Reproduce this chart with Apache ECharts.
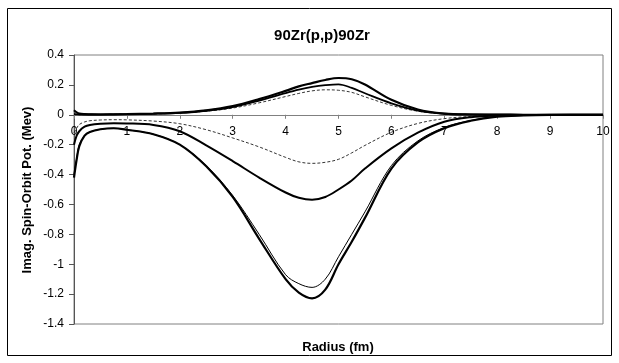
<!DOCTYPE html>
<html>
<head>
<meta charset="utf-8">
<script src="https://cdn.jsdelivr.net/npm/echarts@6/dist/echarts.min.js"></script>
<style>
html,body{margin:0;padding:0;background:#fff;}
#c{width:619px;height:363px;}
</style>
</head>
<body>
<div id="c"></div>
<script>
// Radius (fm)
var radius = [0, 0.05, 0.1, 0.2, 0.3, 0.5, 0.75, 1, 1.5, 2, 2.5, 3, 3.5, 4, 4.25, 4.5, 4.75, 5, 5.25, 5.5, 6, 6.5, 7, 7.5, 8, 8.5, 9, 10];
// Positive curves
var posThick  = [0.03, 0.016, 0.008, 0.004, 0.003, 0.002, 0.003, 0.004, 0.008, 0.015, 0.03, 0.058, 0.105, 0.16, 0.19, 0.212, 0.233, 0.246, 0.238, 0.203, 0.1, 0.035, 0.008, 0.002, 0.001, 0, 0, 0];
var posMid    = [0.004, 0.003, 0.002, 0.002, 0.002, 0.002, 0.003, 0.004, 0.007, 0.013, 0.027, 0.052, 0.095, 0.145, 0.168, 0.186, 0.198, 0.204, 0.18, 0.144, 0.077, 0.028, 0.007, 0.002, 0.001, 0, 0, 0];
var posDash   = [0.003, 0.002, 0.002, 0.002, 0.002, 0.002, 0.003, 0.004, 0.006, 0.012, 0.024, 0.045, 0.08, 0.122, 0.143, 0.16, 0.167, 0.164, 0.15, 0.12, 0.063, 0.024, 0.006, 0.002, 0.001, 0, 0, 0];
// Negative curves
var negDash   = [-0.12, -0.09, -0.065, -0.048, -0.04, -0.035, -0.033, -0.034, -0.042, -0.06, -0.1, -0.155, -0.215, -0.285, -0.315, -0.325, -0.318, -0.298, -0.255, -0.205, -0.117, -0.058, -0.026, -0.011, -0.004, -0.001, 0, 0];
var negMid    = [-0.2, -0.14, -0.11, -0.08, -0.068, -0.06, -0.057, -0.058, -0.068, -0.11, -0.205, -0.31, -0.42, -0.52, -0.555, -0.568, -0.55, -0.5, -0.44, -0.36, -0.225, -0.12, -0.047, -0.016, -0.005, -0.002, -0.001, 0];
var negThin   = [-0.4, -0.29, -0.2, -0.14, -0.115, -0.097, -0.09, -0.1, -0.13, -0.2, -0.34, -0.54, -0.8, -1.07, -1.13, -1.155, -1.1, -0.95, -0.8, -0.65, -0.34, -0.175, -0.085, -0.038, -0.011, -0.004, -0.001, 0];
var negThick  = [-0.42, -0.3, -0.21, -0.14, -0.115, -0.097, -0.09, -0.1, -0.13, -0.2, -0.345, -0.55, -0.83, -1.1, -1.19, -1.228, -1.17, -1.0, -0.85, -0.69, -0.36, -0.185, -0.09, -0.04, -0.012, -0.004, -0.001, 0];

var titleText = '90Zr(p,p)90Zr';
var xName = 'Radius (fm)';
var yName = 'Imag. Spin-Orbit Pot. (Mev)';

var yMin = -1.4, yMax = 0.4;
var gridTop = 55, gridBottom = 39, chartH = 363;
var plotH = chartH - gridTop - gridBottom;
// shift the x axis (line, ticks, labels) up to y = 0
var zeroOffset = -plotH * (0 - yMin) / (yMax - yMin);

function pairs(vals){ return radius.map(function(r,i){ return [r, vals[i]]; }); }
function line(vals, width, dashed){
  return {
    type:'line', data:pairs(vals), symbol:'none', smooth:0.35,
    lineStyle:{color:'#000', width:width, type: dashed ? [3,2] : 'solid'},
    silent:true, animation:false
  };
}

var chart = echarts.init(document.getElementById('c'), null, {renderer:'canvas'});
var font = 'Liberation Sans, Arial, sans-serif';
chart.setOption({
  animation:false,
  title:{text:titleText, left:317, top:23, textAlign:'center',
    textStyle:{fontFamily:font, fontSize:15, fontWeight:'bold', color:'#000'}},
  grid:{left:74, right:16, top:gridTop, bottom:gridBottom, show:true, borderColor:'#808080', borderWidth:1, backgroundColor:'#fff'},
  xAxis:{type:'value', min:0, max:10, interval:1, position:'bottom', offset:zeroOffset,
    axisLine:{onZero:false, lineStyle:{color:'#808080', width:1}},
    axisTick:{show:true, length:4, lineStyle:{color:'#808080'}},
    axisLabel:{color:'#000', fontFamily:font, fontSize:12, margin:11},
    splitLine:{show:false}},
  yAxis:{type:'value', min:yMin, max:yMax, interval:0.2,
    axisLine:{show:true, lineStyle:{color:'#555', width:1}},
    axisTick:{show:true, length:5, lineStyle:{color:'#555'}},
    axisLabel:{color:'#000', fontFamily:font, fontSize:12, margin:10,
      formatter:function(v){ return String(Math.round(v*10)/10); }},
    splitLine:{show:false}},
  graphic:[
    {type:'rect', shape:{x:7.5, y:8.5, width:604, height:347}, style:{fill:null, stroke:'#000', lineWidth:1}, z:-1, silent:true},
    {type:'text', x:338, y:347, style:{text:xName, fontFamily:font, fontSize:13, fontWeight:'bold', fill:'#000', textAlign:'center', textVerticalAlign:'middle'}},
    {type:'text', x:27, y:190, rotation:Math.PI/2, style:{text:yName, fontFamily:font, fontSize:13, fontWeight:'bold', fill:'#000', textAlign:'center', textVerticalAlign:'middle'}}
  ],
  series:[
    line(posThick, 2.2, false),
    line(posMid, 1.8, false),
    line(posDash, 0.8, true),
    line(negDash, 0.8, true),
    line(negMid, 2, false),
    line(negThin, 1, false),
    line(negThick, 2.2, false)
  ]
});
</script>
</body>
</html>
